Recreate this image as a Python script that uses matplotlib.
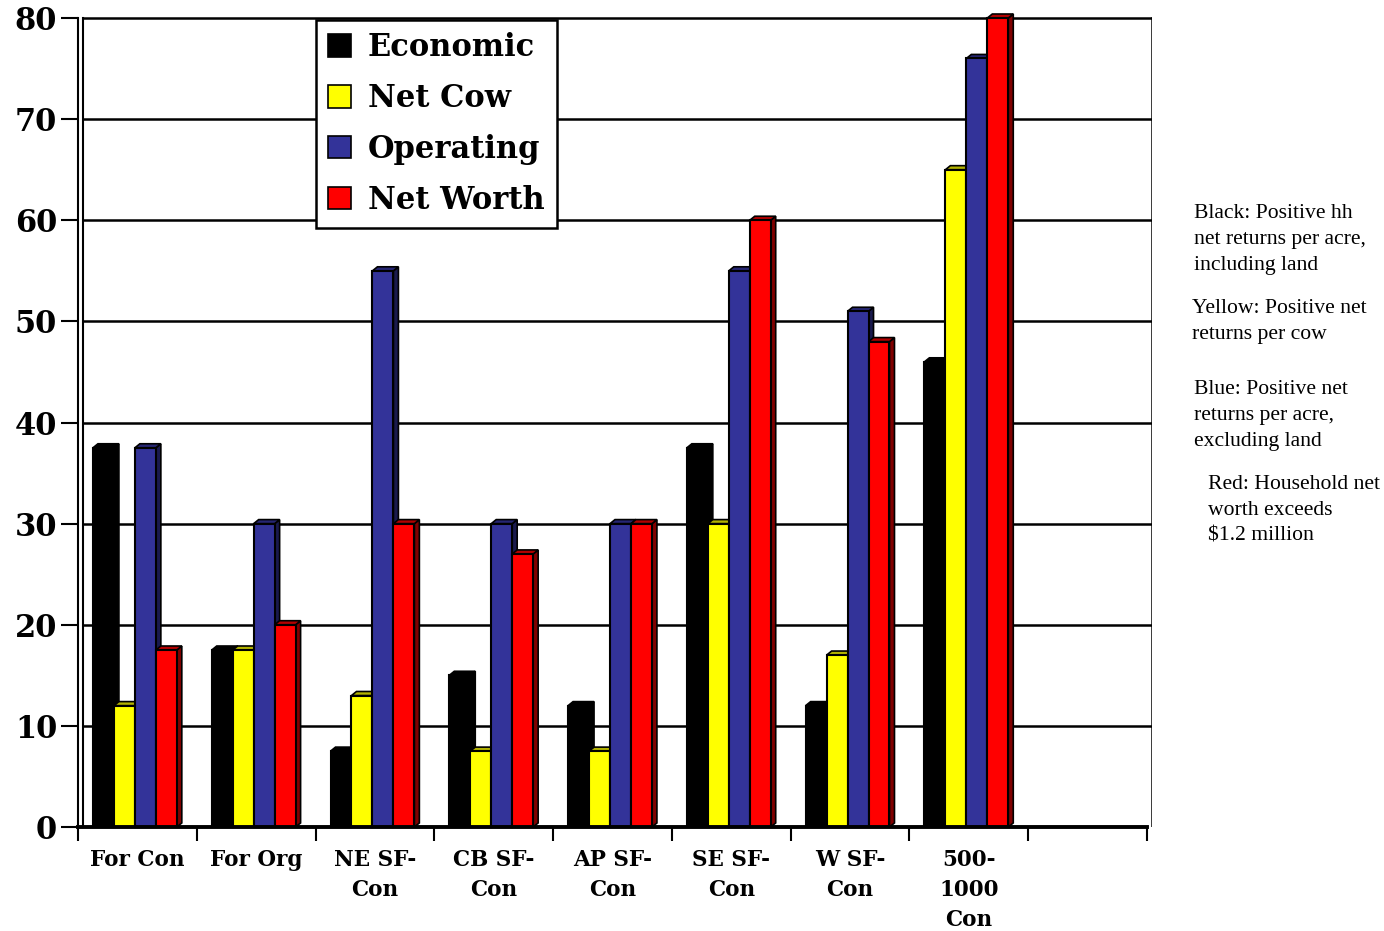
import matplotlib
matplotlib.use("Agg")
import matplotlib.pyplot as plt
from matplotlib.patches import Polygon, Patch

# data
categories = ["For Con", "For Org", "NE SF-\nCon", "CB SF-\nCon", "AP SF-\nCon",
              "SE SF-\nCon", "W SF-\nCon", "500-\n1000\nCon", ""]
series_names = ["Economic", "Net Cow", "Operating", "Net Worth"]
economic = [37.5, 17.5, 7.5, 15, 12, 37.5, 12, 46, None]
net_cow = [12, 17.5, 13, 7.5, 7.5, 30, 17, 65, None]
operating = [37.5, 30, 55, 30, 30, 55, 51, 76, None]
net_worth = [17.5, 20, 30, 27, 30, 60, 48, 80, None]
y_ticks = [0, 10, 20, 30, 40, 50, 60, 70, 80]

front_colors = ["#000000", "#ffff00", "#333399", "#ff0000"]
side_colors = ["#000000", "#999900", "#1a1a4d", "#800000"]
top_colors = ["#000000", "#b3b300", "#262673", "#b30000"]

notes = [
    (1194, 204, "Black: Positive hh\nnet returns per acre,\nincluding land"),
    (1192, 299, "Yellow: Positive net\nreturns per cow"),
    (1194, 380, "Blue: Positive net\nreturns per acre,\nexcluding land"),
    (1208, 475, "Red: Household net\nworth exceeds\n$1.2 million"),
]

W, H = 1384, 931
fig = plt.figure(figsize=(W / 100, H / 100), dpi=100)
ax = fig.add_axes([78 / W, 104 / H, 1074 / W, 813 / H])

dx, dy = 0.042, 0.4          # depth of the 3d look
start, bw = 0.126, 0.1765    # first bar offset and bar width inside a slot
n_slots = len(categories)

ax.set_xlim(0, n_slots + dx)
ax.set_ylim(0, 80 + dy)

# back wall grid
for t in y_ticks[1:]:
    ax.plot([dx, n_slots + dx], [t, t], color="black", lw=1.8, zorder=1)
ax.plot([dx, dx], [0, 80], color="black", lw=1.5, zorder=1)
ax.plot([n_slots + dx, n_slots + dx], [0, 80], color="black", lw=1.8, zorder=1)

all_series = [economic, net_cow, operating, net_worth]
for j, vals in enumerate(all_series):
    for i, v in enumerate(vals):
        if v is None:
            continue
        x0 = i + start + j * bw
        z = 3 + j
        side = Polygon([(x0 + bw, 0), (x0 + bw + dx, dy), (x0 + bw + dx, v + dy), (x0 + bw, v)],
                       closed=True, facecolor=side_colors[j], edgecolor="black", lw=1.2,
                       zorder=z, clip_on=False)
        top = Polygon([(x0, v), (x0 + dx, v + dy), (x0 + bw + dx, v + dy), (x0 + bw, v)],
                      closed=True, facecolor=top_colors[j], edgecolor="black", lw=1.2,
                      zorder=z, clip_on=False)
        ax.add_patch(side)
        ax.add_patch(top)
        ax.bar(x0, v, width=bw, align="edge", color=front_colors[j],
               edgecolor="black", linewidth=1.5, zorder=z, clip_on=False)

# axes, ticks
for s in ["top", "right"]:
    ax.spines[s].set_visible(False)
ax.spines["left"].set_linewidth(1.5)
ax.spines["bottom"].set_linewidth(2.8)
ax.spines["bottom"].set_bounds(0, n_slots)
ax.spines["left"].set_bounds(0, 80)
ax.spines["bottom"].set_zorder(10)

ax.set_yticks(y_ticks)
ax.set_yticklabels([str(t) for t in y_ticks], fontfamily="DejaVu Serif",
                   fontweight="bold", fontsize=22)
ax.tick_params(axis="y", direction="out", length=12, width=1.5, pad=3)

ax.set_xticks(range(n_slots + 1))
ax.set_xticklabels([])
ax.tick_params(axis="x", which="major", direction="out", length=10, width=1.5)
ax.set_xticks([i + 0.5 for i in range(n_slots)], minor=True)
ax.set_xticklabels(categories, minor=True, fontfamily="DejaVu Serif",
                   fontweight="bold", fontsize=15.5, linespacing=1.45)
ax.tick_params(axis="x", which="minor", length=0, pad=16)

handles = [Patch(facecolor=front_colors[j], edgecolor="black", lw=1.2)
           for j in range(4)]
leg = ax.legend(handles, series_names, loc="upper left",
                bbox_to_anchor=(316 / W, 1 - 20 / H), bbox_transform=fig.transFigure,
                borderaxespad=0, prop={"family": "DejaVu Serif", "weight": "bold", "size": 22},
                handlelength=0.75, handleheight=0.75, handletextpad=0.55,
                labelspacing=0.65, borderpad=0.4, fancybox=False, framealpha=1)
leg.get_frame().set_edgecolor("black")
leg.get_frame().set_linewidth(1.8)
leg.set_zorder(20)

for x, y, txt in notes:
    fig.text(x / W, 1 - y / H, txt, ha="left", va="top", fontsize=15.6,
             family="Liberation Serif", linespacing=1.5)

fig.savefig("out.png", dpi=100)
